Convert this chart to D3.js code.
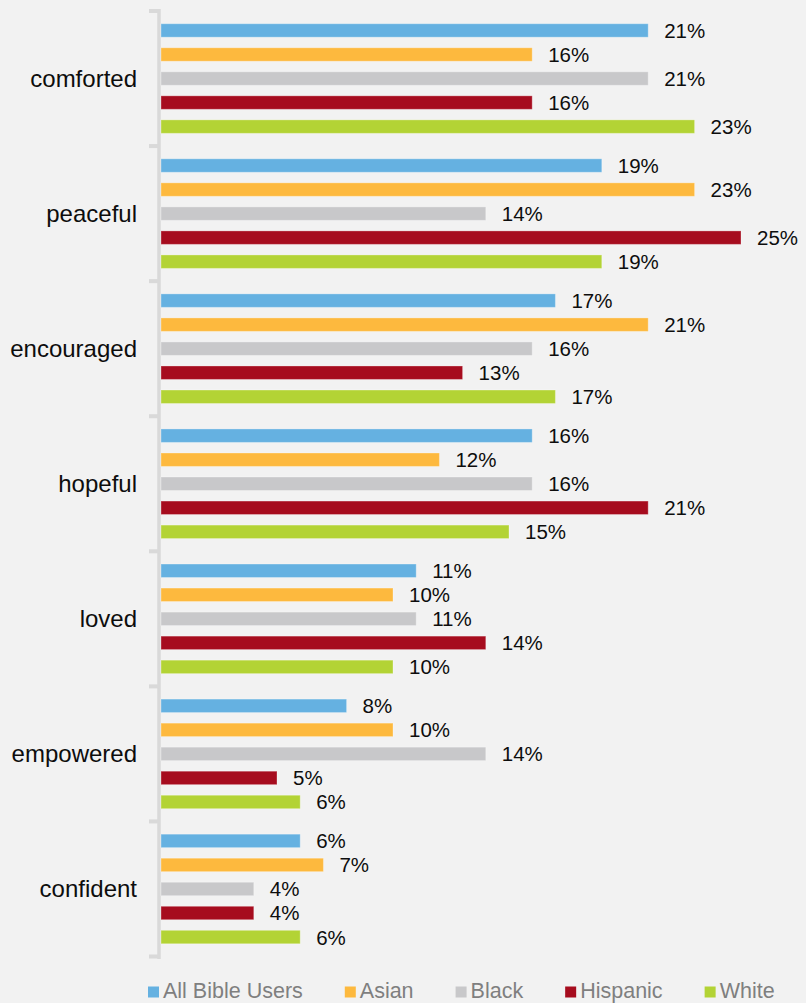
<!DOCTYPE html>
<html>
<head>
<meta charset="utf-8">
<script src="https://cdn.jsdelivr.net/npm/d3@7"></script>
<style>
  html, body { margin: 0; padding: 0; background: #f2f2f2; }
  svg { display: block; font-family: "Liberation Sans", Arial, sans-serif; }
</style>
</head>
<body>
<svg id="chart" width="806" height="1003"></svg>
<script>
// Feelings reported after Bible use, by group (percent)
const categories = ["comforted", "peaceful", "encouraged", "hopeful", "loved", "empowered", "confident"];
const seriesNames = ["All Bible Users", "Asian", "Black", "Hispanic", "White"];
const allBibleUsers = [21, 19, 17, 16, 11, 8, 6];
const asian         = [16, 23, 21, 12, 10, 10, 7];
const black         = [21, 14, 16, 16, 11, 14, 4];
const hispanic      = [16, 25, 13, 21, 14, 5, 4];
const white         = [23, 19, 17, 15, 10, 6, 6];
const seriesColors  = ["#65b1e1", "#fdb93e", "#c8c8ca", "#a60c1e", "#b3d335"];

const seriesValues = [allBibleUsers, asian, black, hispanic, white];
const rows = categories.map((c, i) => ({
  category: c,
  values: seriesNames.map((s, j) => ({ series: s, value: seriesValues[j][i], color: seriesColors[j] }))
}));

const svg = d3.select("#chart");

const x = d3.scaleLinear().domain([0, 25]).range([161, 741]);
const y0 = d3.scaleBand().domain(categories).range([11, 956.5]).padding(0);
const y1 = d3.scaleBand().domain(seriesNames).range([0, y0.bandwidth()])
  .paddingInner(0.44).paddingOuter(0.53);

// Category axis on the left, with group separators
const axisX = 159;
svg.append("line")
  .attr("x1", axisX).attr("x2", axisX)
  .attr("y1", 9).attr("y2", 959)
  .attr("stroke", "#d9d9d9").attr("stroke-width", 3.5);

const boundaries = categories.map(c => y0(c)).concat([y0.range()[1]]);
svg.selectAll("line.sep").data(boundaries).join("line")
  .attr("class", "sep")
  .attr("x1", 149).attr("x2", axisX)
  .attr("y1", d => d).attr("y2", d => d)
  .attr("stroke", "#d9d9d9").attr("stroke-width", 4);

svg.selectAll("text.cat").data(categories).join("text")
  .attr("class", "cat")
  .attr("x", 137)
  .attr("y", d => y0(d) + y0.bandwidth() / 2)
  .attr("text-anchor", "end")
  .attr("dominant-baseline", "central")
  .attr("font-size", 24)
  .attr("fill", "#0d0d0d")
  .text(d => d);

// Bars and value labels
const groups = svg.selectAll("g.group").data(rows).join("g")
  .attr("class", "group")
  .attr("transform", d => `translate(0,${y0(d.category)})`);

groups.selectAll("rect").data(d => d.values).join("rect")
  .attr("x", x(0))
  .attr("y", d => y1(d.series))
  .attr("width", d => x(d.value) - x(0))
  .attr("height", y1.bandwidth())
  .attr("fill", d => d.color)
  .attr("stroke", "rgba(255,255,255,0.3)")
  .attr("stroke-width", 1);

groups.selectAll("text").data(d => d.values).join("text")
  .attr("x", d => x(d.value) + 16)
  .attr("y", d => y1(d.series) + y1.bandwidth() / 2)
  .attr("dominant-baseline", "central")
  .attr("font-size", 20.5)
  .attr("fill", "#0d0d0d")
  .text(d => d.value + "%");

// Legend
const legend = svg.append("g").attr("transform", "translate(148,0)");
let lx = 0;
seriesNames.forEach((name, i) => {
  const item = legend.append("g").attr("transform", `translate(${lx},0)`);
  item.append("rect")
    .attr("x", 0).attr("y", 986.5)
    .attr("width", 11).attr("height", 11)
    .attr("fill", seriesColors[i]);
  const t = item.append("text")
    .attr("x", 15).attr("y", 997.5)
    .attr("font-size", 21.5)
    .attr("fill", "#7f7f7f")
    .text(name);
  lx += 15 + t.node().getComputedTextLength() + 42;
});
</script>
</body>
</html>
